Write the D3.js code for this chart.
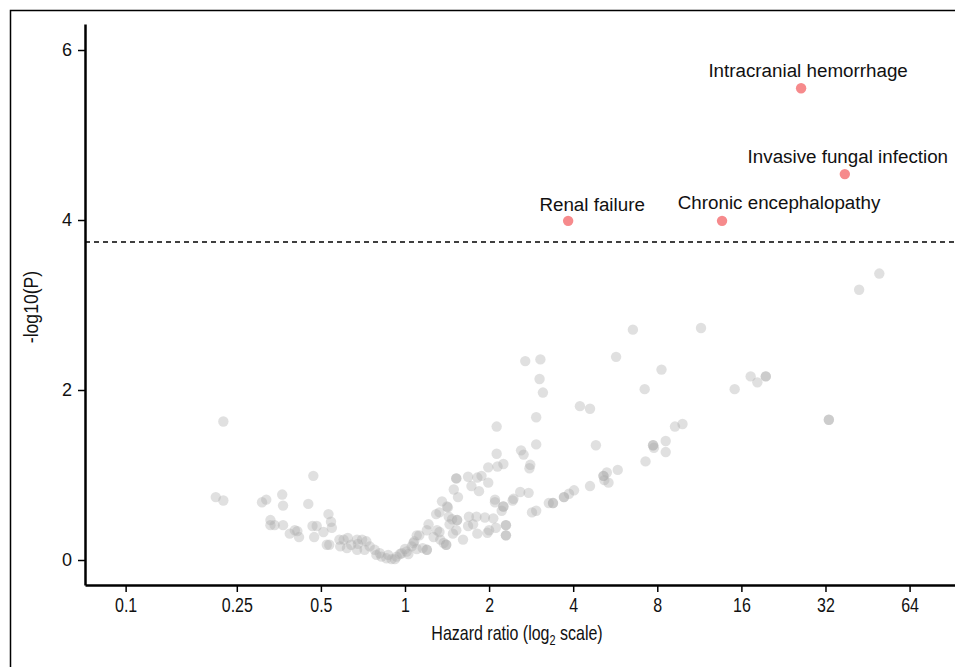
<!DOCTYPE html>
<html>
<head>
<meta charset="utf-8">
<script src="https://cdn.jsdelivr.net/npm/d3@7"></script>
<style>
  body { margin: 0; background: #fff; }
</style>
</head>
<body>
<div id="chart"></div>
<script>
// Constants and data
const width = 955;
const height = 667;

// all other outcomes: log2(hazard ratio) and -log10(P)
const log2HR = [
  -2.16, -2.25, -2.16, -1.70, -1.65, -1.46, -1.45, -1.09, -1.15, -1.60,
  -1.60, -1.55, -1.45, -1.37, -1.31, -1.28, -1.26, -1.10, -1.05, -1.08,
  -0.97, -0.91, -0.88, -0.87, -0.93, -0.90, -0.78, -0.77, -0.73, -0.68,
  -0.69, -0.64, -0.57, -0.56, -0.51, -0.46, -0.57, -0.48, -0.42, -0.36,
  -0.34, -0.28, -0.22, -0.16, -0.10, -0.04, 0.02, 0.08, 0.11, 0.14,
  -0.30, -0.20, -0.12, -0.06, 0.00, 0.17, 0.10, 0.21, 0.26, 0.26,
  0.14, 0.04, 0.28, 0.26, 0.34, 0.42, 0.46, 0.49, 0.49, 0.38,
  0.41, 0.37, 0.41, 0.51, 0.44, 0.63, 0.58, 0.61, 0.61, 0.53,
  0.56, 0.52, 0.62, 0.62, 0.61, 0.57, 0.69, 0.75, 0.81, 0.76,
  0.85, 0.86, 0.95, 1.00, 0.98, 1.08, 1.05, 1.20, 1.20, 1.20,
  1.20, 1.15, 1.17, 1.17, 1.07, 0.88, 0.79, 0.75, 0.86, 0.91,
  0.99, 0.99, 1.10, 1.17, 1.09, 1.09, 1.28, 1.37, 1.47, 1.49,
  1.48, 1.38, 1.41, 1.56, 1.56, 1.64, 1.60, 1.61, 1.43, 1.56,
  1.51, 1.71, 1.76, 1.76, 1.89, 1.89, 1.95, 2.01, 2.20, 2.08,
  2.20, 2.27, 2.36, 2.36, 2.37, 2.40, 2.42, 2.53, 2.51, 2.71,
  2.85, 2.86, 2.95, 2.95, 2.96, 3.05, 3.10, 3.10, 3.21, 3.30,
  3.52, 3.92, 4.11, 4.19, 4.29, 4.29, 5.04, 5.04, 5.40, 5.64,
  1.29, 1.07, 0.50
];
const negLog10P = [
  1.63, 0.74, 0.70, 0.68, 0.71, 0.77, 0.64, 0.99, 0.66, 0.47,
  0.41, 0.41, 0.41, 0.31, 0.35, 0.34, 0.27, 0.40, 0.40, 0.27,
  0.33, 0.54, 0.45, 0.38, 0.18, 0.18, 0.24, 0.16, 0.24, 0.26,
  0.14, 0.18, 0.24, 0.19, 0.24, 0.22, 0.12, 0.12, 0.16, 0.12,
  0.06, 0.04, 0.02, 0.01, 0.04, 0.08, 0.10, 0.16, 0.22, 0.29,
  0.08, 0.06, 0.01, 0.07, 0.13, 0.29, 0.20, 0.14, 0.12, 0.12,
  0.13, 0.07, 0.42, 0.35, 0.27, 0.24, 0.20, 0.18, 0.18, 0.35,
  0.33, 0.54, 0.56, 0.62, 0.69, 0.74, 0.83, 0.96, 0.96, 0.42,
  0.48, 0.51, 0.47, 0.47, 0.35, 0.31, 0.24, 0.40, 0.42, 0.51,
  0.51, 0.31, 0.50, 0.35, 0.32, 0.38, 0.49, 0.41, 0.41, 0.29,
  0.29, 0.58, 0.63, 0.63, 0.68, 0.81, 0.87, 0.98, 0.97, 0.99,
  1.09, 0.91, 1.10, 1.13, 1.25, 1.57, 0.70, 0.80, 0.79, 1.12,
  1.08, 1.29, 1.24, 1.36, 1.68, 1.97, 2.13, 2.36, 2.34, 0.58,
  0.56, 0.67, 0.67, 0.67, 0.74, 0.74, 0.78, 0.82, 0.87, 1.81,
  1.78, 1.35, 0.99, 0.99, 0.94, 1.03, 0.91, 1.06, 2.39, 2.71,
  2.01, 1.16, 1.35, 1.35, 1.32, 2.24, 1.40, 1.27, 1.57, 1.60,
  2.73, 2.01, 2.16, 2.09, 2.16, 2.16, 1.65, 1.65, 3.18, 3.37,
  0.72, 0.71, 0.63
];

// significant outcomes
const sigNames = ["Intracranial hemorrhage", "Invasive fungal infection", "Chronic encephalopathy", "Renal failure"];
const sigLog2HR = [4.71, 5.23, 3.77, 1.94];
const sigNegLog10P = [5.55, 4.54, 3.99, 3.99];

const xTickHR = [0.1, 0.25, 0.5, 1, 2, 4, 8, 16, 32, 64];
const yTicks = [0, 2, 4, 6];
const threshold = 3.74;

const points = log2HR.map((d, i) => ({ x: d, y: negLog10P[i] }));
const sig = sigNames.map((name, i) => ({ name, x: sigLog2HR[i], y: sigNegLog10P[i] }));

const sans = "'Liberation Sans', Arial, Helvetica, sans-serif";
const narrow = "scale(0.78,1)"; // squeeze Liberation Sans to look like Helvetica Narrow

const svg = d3.select("#chart").append("svg")
    .attr("width", width)
    .attr("height", height);

// frame around the figure
svg.append("rect")
    .attr("x", 10.5).attr("y", 10.5)
    .attr("width", 1000).attr("height", 700)
    .attr("fill", "none")
    .attr("stroke", "#000")
    .attr("stroke-width", 1.5);

const x = d3.scaleLinear().domain([-3.805, 6.54]).range([85, 955]);
const y = d3.scaleLinear().domain([-0.294, 6.306]).range([585, 24]);

// dashed significance line
svg.append("line")
    .attr("x1", 85).attr("x2", 955)
    .attr("y1", y(threshold)).attr("y2", y(threshold))
    .attr("stroke", "#000")
    .attr("stroke-width", 1.5)
    .attr("stroke-dasharray", "5,4");

svg.append("g")
    .selectAll("circle")
    .data(points)
    .enter()
    .append("circle")
    .attr("cx", d => x(d.x))
    .attr("cy", d => y(d.y))
    .attr("r", 5.2)
    .attr("fill", "#aaa")
    .attr("fill-opacity", 0.36);

svg.append("g")
    .selectAll("circle")
    .data(sig)
    .enter()
    .append("circle")
    .attr("cx", d => x(d.x))
    .attr("cy", d => y(d.y))
    .attr("r", 5.2)
    .attr("fill", "#f68a8c");

// label nudges (px) so text sits like the original
const labelDx = [7, 3, 57, 24];
const labelDy = [-11, -11, -12, -10];
svg.append("g")
    .selectAll("text")
    .data(sig)
    .enter()
    .append("text")
    .attr("x", (d, i) => x(d.x) + labelDx[i])
    .attr("y", (d, i) => y(d.y) + labelDy[i])
    .attr("text-anchor", "middle")
    .attr("font-family", sans)
    .attr("font-size", 18.8)
    .attr("fill", "#111")
    .text(d => d.name);

// axes
const xAxis = svg.append("g")
    .attr("transform", "translate(0,585)")
    .call(d3.axisBottom(x)
        .tickValues(xTickHR.map(Math.log2))
        .tickFormat(d => +Math.pow(2, d).toFixed(2))
        .tickSize(7)
        .tickSizeOuter(0));

xAxis.select(".domain").attr("stroke-width", 2.5);
xAxis.selectAll(".tick line").attr("stroke-width", 1.5);
xAxis.selectAll(".tick text")
    .attr("font-family", sans)
    .attr("font-size", 20.5)
    .attr("dy", "0.85em")
    .attr("transform", narrow)
    .attr("fill", "#111");

const yAxis = svg.append("g")
    .attr("transform", "translate(85,0)")
    .call(d3.axisLeft(y)
        .tickValues(yTicks)
        .tickFormat(d3.format("d"))
        .tickSize(7)
        .tickSizeOuter(0));

yAxis.select(".domain").attr("stroke-width", 2.5);
yAxis.selectAll(".tick line").attr("stroke-width", 1.5);
yAxis.selectAll(".tick text")
    .attr("font-family", sans)
    .attr("font-size", 18)
    .attr("x", -13)
    .attr("fill", "#111");

// axis titles
const xTitle = svg.append("text")
    .attr("transform", `translate(517,640) ${narrow}`)
    .attr("text-anchor", "middle")
    .attr("font-family", sans)
    .attr("font-size", 20.5)
    .attr("fill", "#111");
xTitle.append("tspan").text("Hazard ratio (log");
xTitle.append("tspan").attr("font-size", 14).attr("dy", 5).text("2");
xTitle.append("tspan").attr("dy", -5).text(" scale)");

svg.append("text")
    .attr("transform", "translate(38,307) rotate(-90) scale(0.84,1)")
    .attr("text-anchor", "middle")
    .attr("font-family", sans)
    .attr("font-size", 21)
    .attr("fill", "#111")
    .text("-log10(P)");
</script>
</body>
</html>
